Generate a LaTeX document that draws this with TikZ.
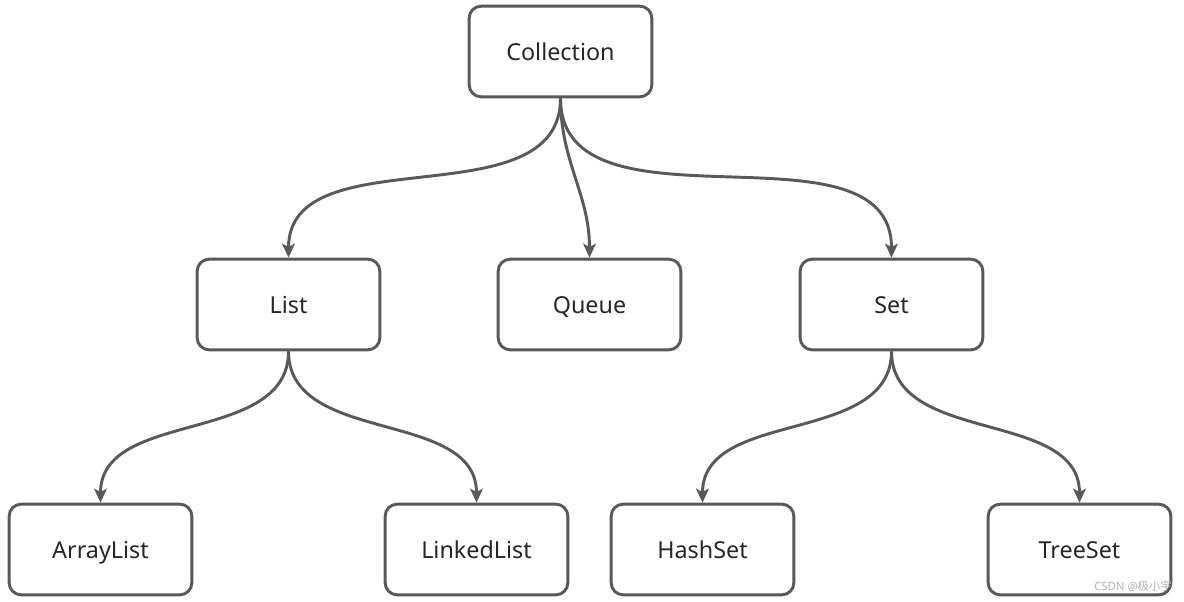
\documentclass[tikz,border=0pt]{standalone}
\usepackage{fontspec}
\setmainfont{Noto Sans}
\newfontfamily\cjk{Noto Sans CJK SC}
\usetikzlibrary{arrows.meta}
\definecolor{boxgray}{RGB}{89,89,89}

\begin{document}
\begin{tikzpicture}[x=0.75pt,y=-0.75pt,
  box/.style={draw=boxgray, line width=2.2pt, rounded corners=9pt, fill=white,
    minimum width=137pt, minimum height=68pt, inner sep=0pt, text=black!85,
    text height=14pt, text depth=1pt,
    font=\fontsize{17.5}{20}\selectfont},
  link/.style={draw=boxgray, line width=2.2pt,
    -{Stealth[length=10.5pt,width=9.5pt,inset=2.5pt]}}]
\useasboundingbox (0,0) rectangle (1184,601);
\node [box] (coll) at (560.5,51.5) {Collection};
\node [box] (list) at (288.5,304.5) {List};
\node [box] (queue) at (589.5,304.5) {Queue};
\node [box] (set) at (891.5,304.5) {Set};
\node [box] (alist) at (100.5,549.5) {ArrayList};
\node [box] (llist) at (476.5,549.5) {LinkedList};
\node [box] (hset) at (702.5,549.5) {HashSet};
\node [box] (tset) at (1079.5,549.5) {TreeSet};
\draw [link] (coll.south) to[out=-90,in=90] (list.north);
\draw [link] (coll.south) to[out=-90,in=90] (queue.north);
\draw [link] (coll.south) to[out=-90,in=90] (set.north);
\draw [link] (list.south) to[out=-90,in=90] (alist.north);
\draw [link] (list.south) to[out=-90,in=90] (llist.north);
\draw [link] (set.south) to[out=-90,in=90] (hset.north);
\draw [link] (set.south) to[out=-90,in=90] (tset.north);
\node [text=black!30, font=\fontsize{8.5}{10}\selectfont] (mark) at (1133,586) {CSDN @{\cjk 极小宇}};
\end{tikzpicture}
\end{document}
